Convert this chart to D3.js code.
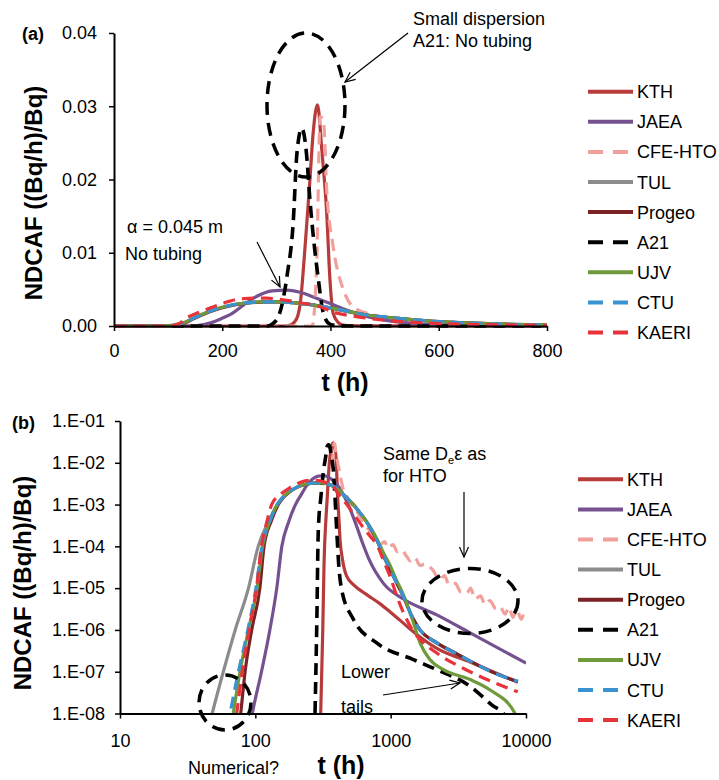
<!DOCTYPE html>
<html>
<head>
<meta charset="utf-8">
<script src="https://cdn.jsdelivr.net/npm/d3@7"></script>
<style>
  body { margin: 0; background: #fff; }
  svg text { font-family: "Liberation Sans", Arial, Helvetica, sans-serif; fill: #000; }
</style>
</head>
<body>
<svg id="chart" width="719" height="780"></svg>
<script>
// Normalised breakthrough curves, NDCAF ((Bq/h)/Bq) against time t (h), one [t, value] list per team
const seriesNames = ["KTH", "JAEA", "CFE-HTO", "TUL", "Progeo", "A21", "UJV", "CTU", "KAERI"];

const kth = [[1,1e-12],[290,1e-11],[304,1e-8],[315,1e-6],[322,4e-5],[333,5e-4],[340,1.5e-3],[344,3e-3],[353,0.0108],[362,0.02],[368,0.0264],[376,0.0302],[384,0.024],[393,0.0154],[399,0.0063],[405,0.0017],[414,5e-4],[423,1.4e-4],[440,5e-5],[474,1.9e-5],[540,1.15e-5],[665,7e-6],[836,4.2e-6],[991,2.7e-6],[1200,1.6e-6],[1472,9e-7],[2193,3.6e-7],[3864,1.7e-7],[8700,5.6e-8]];

const jaea = [[1,1e-12],[70,1e-11],[95,1e-8],[111,1e-7],[128,1e-6],[144,1e-5],[157,1e-4],[177,4e-4],[198,1e-3],[220,1.8e-3],[242,3e-3],[265,4.1e-3],[292,4.8e-3],[319,4.9e-3],[344,4.6e-3],[374,3.8e-3],[405,2.9e-3],[436,2e-3],[467,1.3e-3],[500,8e-4],[561,3e-4],[620,1.2e-4],[690,5e-5],[884,1.3e-5],[1242,5.5e-6],[2193,2.3e-6],[3864,8.5e-7],[10000,1.6e-7]];

const cfeHto = [[0,0],[366,0],[374.5,8.6e-3],[381,0.0286],[387,0.028],[393,0.0186],[405,0.0108],[424,0.0049],[442,0.0026],[480,1.5e-3],[530,8.9e-4],[561,7e-4],[620,3.8e-4],[705,2.3e-4],[760,1.6e-4],[836,1.1e-4],[900,1.3e-4],[960,9e-5],[1040,1.1e-4],[1120,7.5e-5],[1200,8.3e-5],[1300,6e-5],[1400,4.5e-5],[1500,5.5e-5],[1650,3.5e-5],[1800,3.8e-5],[2050,2.7e-5],[2300,1.6e-5],[2500,2e-5],[2700,1.2e-5],[3000,1.3e-5],[3300,8e-6],[3655,7.6e-6],[3900,1e-5],[4200,5.5e-6],[4600,6.5e-6],[5000,4e-6],[5400,5e-6],[6000,3.2e-6],[6430,3.6e-6],[7000,2.4e-6],[7500,3.5e-6],[8000,2e-6],[8600,3e-6],[9200,1.8e-6],[9800,2.6e-6],[10000,2.1e-6]];

const tul = [[1,1e-12],[30,1e-11],[48,1e-8],[58,1e-7],[71,1e-6],[89,1e-5],[105,1e-4],[128,4.5e-4],[145,1e-3],[160,1.5e-3],[177,2e-3],[200,2.55e-3],[220,2.9e-3],[245,3.15e-3],[270,3.28e-3],[300,3.3e-3],[330,3.2e-3],[360,2.95e-3],[405,2.4e-3],[467,1.5e-3],[530,1e-3],[590,6.5e-4],[650,4.3e-4],[705,2.8e-4],[800,1.3e-4],[884,6e-5],[991,2.8e-5],[1100,1.4e-5],[1242,6.3e-6],[1472,1.8e-6],[1648,1e-6],[2193,4.9e-7],[3000,2.8e-7],[3864,1.8e-7],[6000,9e-8],[8700,5.7e-8]];

const progeo = [[1,1e-12],[60,1e-11],[78,1e-8],[84,1e-7],[94,1e-6],[108,1e-5],[116,1e-4],[131,4e-4],[148,1e-3],[162,1.5e-3],[177,1.95e-3],[200,2.5e-3],[220,2.85e-3],[245,3.12e-3],[270,3.26e-3],[300,3.3e-3],[330,3.2e-3],[360,2.95e-3],[405,2.4e-3],[467,1.5e-3],[530,1e-3],[590,6.5e-4],[650,4.3e-4],[705,2.8e-4],[800,1.3e-4],[884,6e-5],[991,2.8e-5],[1100,1.4e-5],[1242,6.3e-6],[1472,1.8e-6],[1648,1e-6],[2193,4.9e-7],[3000,2.8e-7],[3864,1.8e-7],[6000,9e-8],[8700,5.8e-8]];

const a21 = [[1,1e-12],[260,1e-11],[276,1e-8],[284,1e-6],[292,2.5e-4],[305,1.5e-3],[320,7e-3],[331,0.014],[338,0.0236],[347,0.027],[355,0.024],[362,0.0172],[370,0.011],[377,0.0067],[387,0.0017],[399,2.5e-4],[415,3e-5],[435,9e-6],[530,1.8e-6],[789,4.9e-7],[1472,1.95e-7],[2193,1.12e-7],[3864,4.5e-8],[5741,1.5e-8],[6810,1e-8],[7500,5e-9]];

const ujv = [[1,1e-12],[50,1e-11],[68.7,1e-8],[77,1e-7],[89,1e-6],[103,1e-5],[113,1e-4],[128,4e-4],[145,1e-3],[160,1.5e-3],[177,2e-3],[200,2.55e-3],[220,2.9e-3],[245,3.15e-3],[270,3.28e-3],[300,3.3e-3],[330,3.2e-3],[360,2.95e-3],[405,2.4e-3],[467,1.5e-3],[530,1e-3],[590,6.5e-4],[650,4.3e-4],[705,2.9e-4],[800,1.4e-4],[884,7e-5],[991,3.5e-5],[1100,1.6e-5],[1242,7e-6],[1472,1.5e-6],[1648,4.9e-7],[1950,1.95e-7],[2453,1.12e-7],[3864,6.5e-8],[5400,3.7e-8],[8300,1e-8],[9000,5e-9]];

const ctu = [[1,1e-12],[45,1e-11],[65,1e-8],[75,1e-7],[88,1e-6],[101,1e-5],[112,1e-4],[128,4e-4],[145,1e-3],[160,1.5e-3],[177,2e-3],[200,2.55e-3],[220,2.9e-3],[245,3.15e-3],[270,3.28e-3],[300,3.3e-3],[330,3.2e-3],[360,2.95e-3],[405,2.4e-3],[467,1.5e-3],[530,1e-3],[590,6.5e-4],[650,4.3e-4],[705,2.8e-4],[800,1.3e-4],[884,6e-5],[991,2.8e-5],[1100,1.4e-5],[1242,6.3e-6],[1472,1.8e-6],[1648,1e-6],[2193,4.9e-7],[3000,2.8e-7],[3864,1.8e-7],[6000,9e-8],[8700,5.9e-8]];

const kaeri = [[1,1e-12],[50,1e-11],[72.8,1e-8],[80,1e-7],[90,1e-6],[102,1e-5],[111,1e-4],[122,4e-4],[132,1e-3],[155,1.8e-3],[183,2.6e-3],[210,3.3e-3],[233,3.7e-3],[260,3.8e-3],[282,3.8e-3],[310,3.6e-3],[349,3.1e-3],[378,2.7e-3],[405,1.9e-3],[448,1.28e-3],[500,8e-4],[590,3.7e-4],[700,1.8e-4],[789,1.1e-4],[900,4e-5],[991,1.9e-5],[1100,7e-6],[1242,2.6e-6],[1450,1e-6],[1648,5.9e-7],[2193,2.8e-7],[3864,1e-7],[8700,3.3e-8]];

const seriesValues = [kth, jaea, cfeHto, tul, progeo, a21, ujv, ctu, kaeri];

// Axis ticks
const topXTicks = [0, 200, 400, 600, 800];
const topYTicks = [0, 0.01, 0.02, 0.03, 0.04];
const botXTicks = [10, 100, 1000, 10000];
const botYTicks = [1e-1, 1e-2, 1e-3, 1e-4, 1e-5, 1e-6, 1e-7, 1e-8];

// Line styles, in legend order
const seriesColors = ["#B83B3B", "#75528F", "#F2A09C", "#8C8C8C", "#7C2224", "#000000", "#6E9A3A", "#3A93D0", "#E8333A"];
const seriesDashed = [false, false, true, false, false, true, false, true, true];

const svg = d3.select("#chart");
const FONT = '"Liberation Sans", Arial, Helvetica, sans-serif';

const defs = svg.append("defs");

function panel(cfg) {
  const { id, x, y, xTicks, yTicks, xFmt, yFmt, xPad, yPad, legend } = cfg;
  const [xa, xb] = x.range();
  const [yb, ya] = y.range();

  defs.append("clipPath").attr("id", id)
    .append("rect").attr("x", xa).attr("y", ya - 5).attr("width", xb - xa).attr("height", yb - ya + cfg.clipBelow + 5);

  const lineGen = d3.line()
    .x(d => x(d[0])).y(d => y(d[1]))
    .curve(d3.curveMonotoneX);

  const g = svg.append("g").attr("clip-path", `url(#${id})`);
  seriesValues.forEach((vals, i) => {
    const pts = vals.filter(cfg.keep);
    g.append("path")
      .attr("d", lineGen(pts))
      .attr("fill", "none")
      .attr("stroke", seriesColors[i])
      .attr("stroke-width", seriesNames[i] === "A21" ? 3.6 : 3.2)
      .attr("stroke-dasharray", seriesDashed[i] ? "12,7" : null)
      .attr("stroke-linejoin", "round");
  });

  // Axes
  const ax = svg.append("g").attr("transform", `translate(0,${yb})`)
    .call(d3.axisBottom(x).tickValues(xTicks).tickFormat(xFmt).tickSize(5).tickSizeOuter(0).tickPadding(xPad));
  const ay = svg.append("g").attr("transform", `translate(${xa},0)`)
    .call(d3.axisLeft(y).tickValues(yTicks).tickFormat(yFmt).tickSize(5).tickSizeOuter(0).tickPadding(yPad));
  [ax, ay].forEach(a => {
    a.attr("font-family", FONT).attr("font-size", 18);
    a.select(".domain").attr("stroke", "#000").attr("stroke-width", 2);
    a.selectAll(".tick line").attr("stroke", "#000").attr("stroke-width", 1.5);
    a.selectAll(".tick text").attr("fill", "#000");
  });

  // Legend
  seriesNames.forEach((name, i) => {
    const ly = legend.y0 + i * legend.step;
    svg.append("line")
      .attr("x1", legend.x1).attr("x2", legend.x2).attr("y1", ly).attr("y2", ly)
      .attr("stroke", seriesColors[i]).attr("stroke-width", 4)
      .attr("stroke-dasharray", seriesDashed[i] ? "15,10" : null);
    svg.append("text")
      .attr("x", legend.tx).attr("y", ly + 6.5)
      .attr("font-size", 18)
      .text(name);
  });
}

const xTop = d3.scaleLinear().domain([0, 800]).range([114, 547]);
const yTop = d3.scaleLinear().domain([0, 0.04]).range([326, 33]);
const xBot = d3.scaleLog().domain([10, 10000]).range([120, 526]);
const yBot = d3.scaleLog().domain([1e-8, 1e-1]).range([713.5, 421]);

panel({
  id: "clipTop", x: xTop, y: yTop, xTicks: topXTicks, yTicks: topYTicks,
  xFmt: d3.format("d"), yFmt: d3.format(".2f"), xPad: 13, yPad: 12,
  keep: d => d[0] <= 1000, clipBelow: 3,
  legend: { x1: 588, x2: 633, tx: 637, y0: 91.7, step: 30.1 }
});

// zero readings cannot sit on a log axis, so they are left out there
panel({
  id: "clipBot", x: xBot, y: yBot, xTicks: botXTicks, yTicks: botYTicks,
  xFmt: d => String(d), yFmt: d => "1.E-" + String(Math.round(-Math.log10(d))).padStart(2, "0"),
  xPad: 15.5, yPad: 10,
  keep: d => d[0] > 0 && d[1] > 0, clipBelow: 0,
  legend: { x1: 578, x2: 623, tx: 627, y0: 479.3, step: 30.1 }
});

// Panel labels and axis titles
function label(x, y, txt, size, bold, anchor) {
  return svg.append("text").attr("x", x).attr("y", y)
    .attr("font-size", size).attr("font-weight", bold ? "bold" : "normal")
    .attr("text-anchor", anchor || "start").text(txt);
}
label(22, 40, "(a)", 18, true);
label(12, 429, "(b)", 18, true);
label(345, 391, "t (h)", 25, true, "middle");
label(341, 774, "t (h)", 25, true, "middle");
svg.append("text").attr("transform", "translate(42,193) rotate(-90)")
  .attr("text-anchor", "middle").attr("font-size", 24).attr("font-weight", "bold")
  .text("NDCAF ((Bq/h)/Bq)");
svg.append("text").attr("transform", "translate(31,583) rotate(-90)")
  .attr("text-anchor", "middle").attr("font-size", 24).attr("font-weight", "bold")
  .text("NDCAF ((Bq/h)/Bq)");

// Notes
label(413, 25, "Small dispersion", 18);
label(413, 47, "A21: No tubing", 18);
label(127, 233, "α = 0.045 m", 18);
label(125, 260, "No tubing", 18);
const same = label(383, 460, "Same D", 18);
same.append("tspan").attr("font-size", 11).attr("dy", 4).text("e");
same.append("tspan").attr("font-size", 18).attr("dy", -4).text("ε as");
label(383, 482, "for HTO", 18);
label(341, 678, "Lower", 18);
label(341, 713, "tails", 18);
label(188, 774, "Numerical?", 18);

// Dashed ellipses marking features
function ring(cx, cy, rx, ry) {
  svg.append("ellipse").attr("cx", cx).attr("cy", cy).attr("rx", rx).attr("ry", ry)
    .attr("fill", "none").attr("stroke", "#000").attr("stroke-width", 3.5)
    .attr("stroke-dasharray", "13,8");
}
ring(306, 105, 39, 72);
ring(470, 601, 48, 32.5);
ring(225, 702.5, 26, 27.5);

// Pointer arrows with open heads
function arrow(x1, y1, x2, y2) {
  svg.append("line").attr("x1", x1).attr("y1", y1).attr("x2", x2).attr("y2", y2)
    .attr("stroke", "#000").attr("stroke-width", 1.2);
  const a = Math.atan2(y2 - y1, x2 - x1), L = 11, w = 0.42;
  const p = d3.path();
  p.moveTo(x2 - L * Math.cos(a - w), y2 - L * Math.sin(a - w));
  p.lineTo(x2, y2);
  p.lineTo(x2 - L * Math.cos(a + w), y2 - L * Math.sin(a + w));
  svg.append("path").attr("d", p.toString()).attr("fill", "none")
    .attr("stroke", "#000").attr("stroke-width", 1.2);
}
arrow(408, 33, 345, 82);
arrow(257, 242, 280, 287);
arrow(464, 492, 464, 557);
arrow(383, 695, 460, 683);
</script>
</body>
</html>
